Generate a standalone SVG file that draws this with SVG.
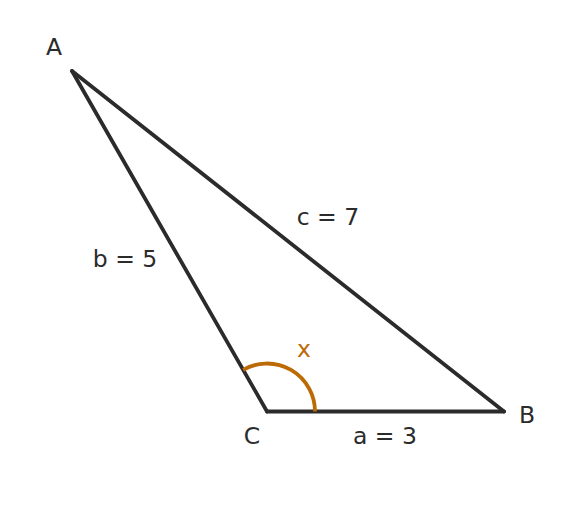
<svg xmlns="http://www.w3.org/2000/svg" width="576" height="524" viewBox="0 0 576 524">
<style>
.t{font-family:"DejaVu Sans",sans-serif;font-size:23.5px;fill:#2b2b2b;text-anchor:middle}
.e{fill:none;stroke:#2b2b2b;stroke-width:3.8;stroke-linecap:round;stroke-linejoin:round}
</style>
<rect width="576" height="524" fill="#ffffff"/>
<g id="connectors">
<line class="e" x1="72" y1="71" x2="267" y2="411.5"/>
<line class="e" x1="267" y1="411.5" x2="504" y2="411.5"/>
<line class="e" x1="504" y1="411.5" x2="72" y2="71"/>
</g>
<g id="angle">
<path d="M315,411.5 A48,48 0 0 0 243.1,369.9" fill="none" stroke="#bc6a06" stroke-width="3.8"/>
<text class="t" x="304" y="357" style="fill:#bc6a06">x</text>
</g>
<g id="A"><text class="t" x="54" y="55">A</text></g>
<g id="B"><text class="t" x="527" y="423">B</text></g>
<g id="C"><text class="t" x="252" y="444">C</text></g>
<g id="labels">
<text class="t" x="328" y="225">c = 7</text>
<text class="t" x="125" y="267">b = 5</text>
<text class="t" x="385" y="444">a = 3</text>
</g>
</svg>
